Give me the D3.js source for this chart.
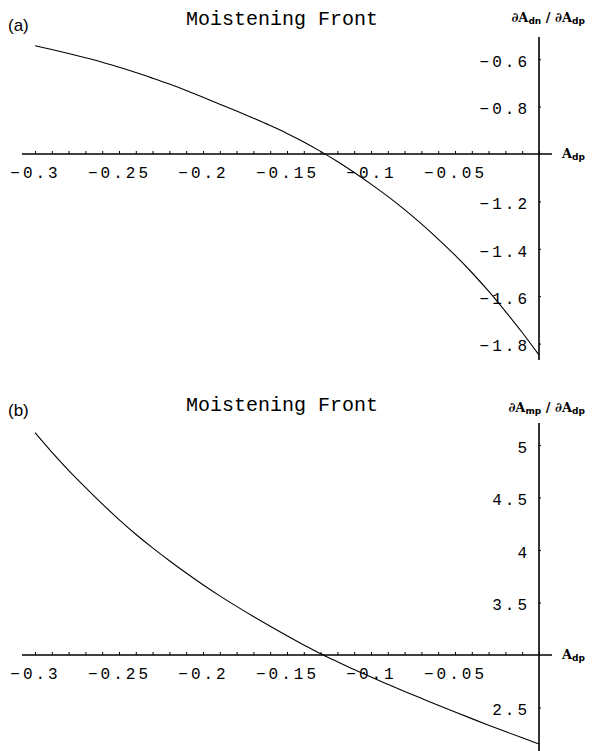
<!DOCTYPE html>
<html>
<head>
<meta charset="utf-8">
<script src="https://cdn.jsdelivr.net/npm/d3@7"></script>
<style>
  body { margin: 0; background: #fff; }
  svg { display: block; }
  .tick-label { font-family: "Liberation Mono", "DejaVu Sans Mono", monospace; font-size: 16px; letter-spacing: 3px; fill: #000; }
  .title { font-family: "Liberation Mono", "DejaVu Sans Mono", monospace; font-size: 20px; fill: #000; }
  .panel-label { font-family: "Liberation Sans", Arial, sans-serif; font-size: 17px; fill: #000; }
  .sym { font-family: "DejaVu Serif", "Liberation Serif", serif; font-size: 13px; font-weight: bold; fill: #000; }
  .sub { font-family: "DejaVu Sans", "Liberation Sans", sans-serif; font-size: 9px; font-weight: bold; fill: #000; }
</style>
</head>
<body>
<svg id="chart" width="592" height="751"></svg>
<script>
// Dry-front position A_dp (horizontal axis), sampled every 0.01
const adpValues = [-0.30, -0.29, -0.28, -0.27, -0.26, -0.25, -0.24, -0.23, -0.22, -0.21,
                   -0.20, -0.19, -0.18, -0.17, -0.16, -0.15, -0.14, -0.13, -0.12, -0.11,
                   -0.10, -0.09, -0.08, -0.07, -0.06, -0.05, -0.04, -0.03, -0.02, -0.01, 0.00];

// (a) derivative ∂A_dn / ∂A_dp
const dAdnValues = [-0.543, -0.559, -0.576, -0.594, -0.613, -0.634, -0.656, -0.680, -0.705, -0.732,
                    -0.761, -0.790, -0.819, -0.849, -0.880, -0.913, -0.949, -0.989, -1.032, -1.078,
                    -1.127, -1.179, -1.235, -1.295, -1.359, -1.427, -1.500, -1.579, -1.664, -1.753, -1.848];

// (b) derivative ∂A_mp / ∂A_dp
const dAmpValues = [5.117, 4.932, 4.759, 4.596, 4.439, 4.290, 4.150, 4.020, 3.898, 3.781,
                    3.669, 3.563, 3.463, 3.367, 3.274, 3.183, 3.095, 3.013, 2.936, 2.861,
                    2.790, 2.721, 2.653, 2.587, 2.521, 2.457, 2.394, 2.332, 2.271, 2.211, 2.152];

// Axis ticks
const xMinorTicks = d3.range(-30, 1).map(i => i / 100);
const xTickLabels = [-0.3, -0.25, -0.2, -0.15, -0.1, -0.05];
const yTicksA = [-1.8, -1.6, -1.4, -1.2, -0.8, -0.6];
const yTicksB = [2.5, 3.5, 4, 4.5, 5];

const panelNames = ["(a)", "(b)"];
const panelTitles = ["Moistening Front", "Moistening Front"];
const yLabelSubs = ["dn", "mp"];

const svg = d3.select("#chart");
const fmt = d3.format("");

const panels = [
  { values: dAdnValues, yTicks: yTicksA, yDomain: [-1.8, -0.6], yRange: [343.6, 59.2], cross: -1,
    axisTop: 37, axisBottom: 360, titleY: 25, nameY: 31, yLabelY: 22 },
  { values: dAmpValues, yTicks: yTicksB, yDomain: [2.5, 5], yRange: [707.5, 445], cross: 3,
    axisTop: 423, axisBottom: 751, titleY: 411, nameY: 416, yLabelY: 412 }
];

const x = d3.scaleLinear().domain([-0.3, 0]).range([35, 539]);
const x0 = x(0);

panels.forEach((p, i) => {
  const y = d3.scaleLinear().domain(p.yDomain).range(p.yRange);
  const yCross = y(p.cross);
  const g = svg.append("g");

  // axis lines
  g.append("line").attr("x1", 22).attr("x2", 552).attr("y1", yCross).attr("y2", yCross)
    .attr("stroke", "#000").attr("stroke-width", 1.6);
  g.append("line").attr("x1", x0).attr("x2", x0).attr("y1", p.axisTop).attr("y2", p.axisBottom)
    .attr("stroke", "#000").attr("stroke-width", 1.6);

  // horizontal axis: small ticks every 0.01
  const xt = g.append("g").attr("transform", `translate(0,${yCross})`)
    .call(d3.axisTop(x).tickValues(xMinorTicks).tickSize(3).tickSizeOuter(0).tickFormat(""));
  xt.select(".domain").remove();
  xt.selectAll("line").attr("stroke", "#000").attr("stroke-width", 1);

  // horizontal axis labels
  const xl = g.append("g").attr("transform", `translate(0,${yCross})`)
    .call(d3.axisBottom(x).tickValues(xTickLabels).tickSize(0).tickFormat(fmt));
  xl.select(".domain").remove();
  xl.attr("font-size", null).attr("font-family", null);
  xl.selectAll("text").attr("class", "tick-label").attr("y", 24).attr("dy", null);

  // vertical axis ticks (right side) and labels (left side)
  const yt = g.append("g").attr("transform", `translate(${x0},0)`)
    .call(d3.axisRight(y).tickValues(p.yTicks).tickSize(2).tickSizeOuter(0).tickFormat(""));
  yt.select(".domain").remove();
  yt.selectAll("line").attr("stroke", "#000").attr("stroke-width", 1);

  const yl = g.append("g").attr("transform", `translate(${x0},0)`)
    .call(d3.axisLeft(y).tickValues(p.yTicks).tickSize(0).tickPadding(9).tickFormat(fmt));
  yl.select(".domain").remove();
  yl.attr("font-size", null).attr("font-family", null);
  yl.selectAll("text").attr("class", "tick-label").attr("dy", "0.45em");

  // curve
  const line = d3.line().x((d, k) => x(adpValues[k])).y(d => y(d)).curve(d3.curveMonotoneX);
  g.append("path").datum(p.values).attr("d", line)
    .attr("fill", "none").attr("stroke", "#000").attr("stroke-width", 1.1);

  // title and panel name
  g.append("text").attr("class", "title").attr("x", 282).attr("y", p.titleY)
    .attr("text-anchor", "middle").text(panelTitles[i]);
  g.append("text").attr("class", "panel-label").attr("x", 8).attr("y", p.nameY).text(panelNames[i]);

  // vertical axis label: ∂A_xx / ∂A_dp
  const yLab = g.append("text").attr("x", 585).attr("y", p.yLabelY).attr("text-anchor", "end");
  yLab.append("tspan").attr("class", "sym").text("∂A");
  yLab.append("tspan").attr("class", "sub").attr("dy", 2).text(yLabelSubs[i]);
  yLab.append("tspan").attr("class", "sym").attr("dy", -2).text(" / ∂A");
  yLab.append("tspan").attr("class", "sub").attr("dy", 2).text("dp");

  // horizontal axis label: A_dp
  const xLab = g.append("text").attr("x", 562).attr("y", yCross + 4);
  xLab.append("tspan").attr("class", "sym").text("A");
  xLab.append("tspan").attr("class", "sub").attr("dy", 2).text("dp");
});
</script>
</body>
</html>
